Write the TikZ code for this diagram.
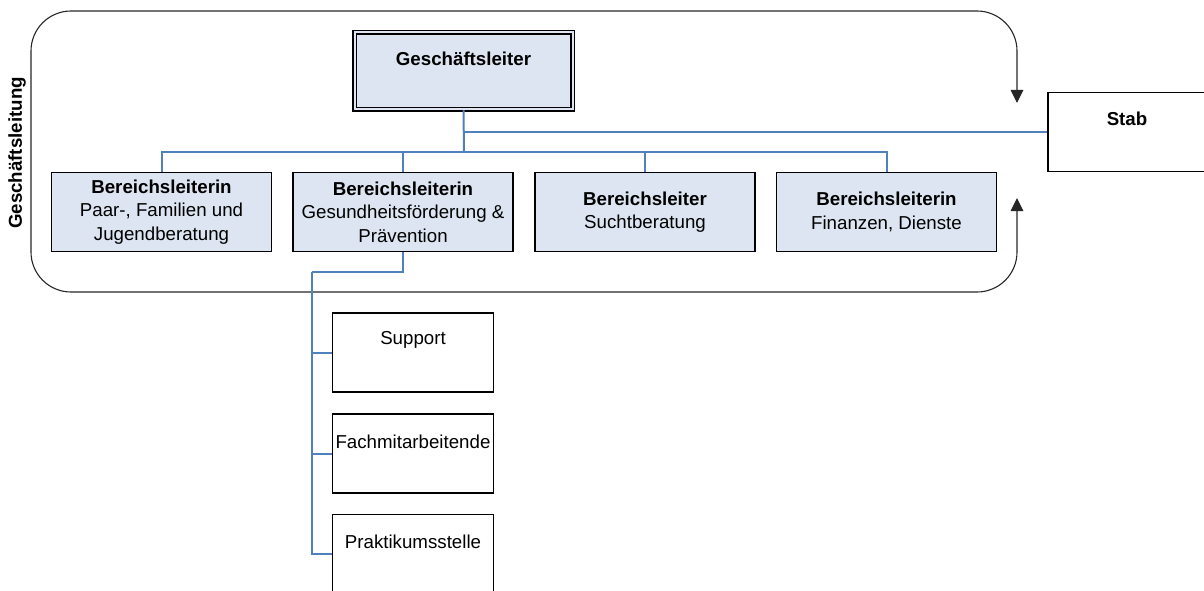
\documentclass[tikz,border=0pt]{standalone}
\usepackage{fontspec}
\setmainfont{Liberation Sans}
\usetikzlibrary{arrows.meta}
\definecolor{boxfill}{RGB}{220,229,241}
\definecolor{linkblue}{RGB}{79,129,189}
\begin{document}
\begin{tikzpicture}[x=1pt,y=-1pt,
  every node/.style={font=\fontsize{18.7}{23.5}\selectfont},
  unitbox/.style={draw=black, line width=1.6pt, fill=boxfill, minimum width=220pt, minimum height=79pt, inner sep=0pt, align=center},
  plainbox/.style={draw=black, line width=1.6pt, fill=white, minimum width=161pt, minimum height=79pt, inner sep=0pt},
  link/.style={draw=linkblue, line width=2pt},
  frame/.style={draw=black!85, line width=1.1pt, rounded corners=40pt, {Triangle[width=12.5pt,length=13pt]}-{Triangle[width=12.5pt,length=13pt]}}
]
\useasboundingbox (0,0) rectangle (1204,591);
\clip (0,0) rectangle (1204,591);

% container frame with arrows towards Stab
\coordinate (ftop) at (1017,103);
\coordinate (fbot) at (1017,198);
\draw[frame] (ftop) -- (1017,11) -- (31,11) -- (31,292) -- (1017,292) -- (fbot);
\node[rotate=90, font=\fontsize{18.7}{23.5}\selectfont\bfseries] (gltitle) at (17,153) {Geschäftsleitung};

% top box
\node[draw=black, line width=1.5pt, double=boxfill, double distance=2pt, fill=boxfill,
      minimum width=218pt, minimum height=77pt, inner sep=0pt] (gl) at (463.5,71) {};
\node[font=\fontsize{18.7}{23.5}\selectfont\bfseries] (gltext) at (463.5,59) {Geschäftsleiter};

% Stab
\node[plainbox, minimum width=180pt, minimum height=79pt] (stab) at (1138,132) {};
\node[font=\fontsize{18.7}{23.5}\selectfont\bfseries] (stabtext) at (1127,119) {Stab};

% department boxes
\node[unitbox] (b1) at (161.5,212) {\textbf{Bereichsleiterin}\\Paar-, Familien und\\Jugendberatung};
\node[unitbox] (b2) at (403,212) {\textbf{Bereichsleiterin}\\Gesundheitsförderung \&\\Prävention};
\node[unitbox] (b3) at (645,212) {\textbf{Bereichsleiter}\\Suchtberatung};
\node[unitbox] (b4) at (886.5,212) {\textbf{Bereichsleiterin}\\Finanzen, Dienste};

% sub boxes
\node[plainbox] (s1) at (413,352.5) {};
\node (s1text) at (413,340) {Support};
\node[plainbox] (s2) at (413,453.5) {};
\node (s2text) at (413,442) {Fachmitarbeitende};
\node[plainbox] (s3) at (413,554) {};
\node (s3text) at (413,542) {Praktikumsstelle};

% connectors
\coordinate (bus) at (464,152);
\draw[link] (gl.south) -- (bus);
\draw[link] (bus) -| (b1.north);
\draw[link] (bus) -| (b2.north);
\draw[link] (bus) -| (b3.north);
\draw[link] (bus) -| (b4.north);
\draw[link] (stab.west) -- (stab.west -| gl.south);

\coordinate (trunk) at (312,272);
\draw[link] (b2.south) |- (trunk);
\draw[link] (trunk) |- (s1.west);
\draw[link] (trunk) |- (s2.west);
\draw[link] (trunk) |- (s3.west);
\end{tikzpicture}
\end{document}
